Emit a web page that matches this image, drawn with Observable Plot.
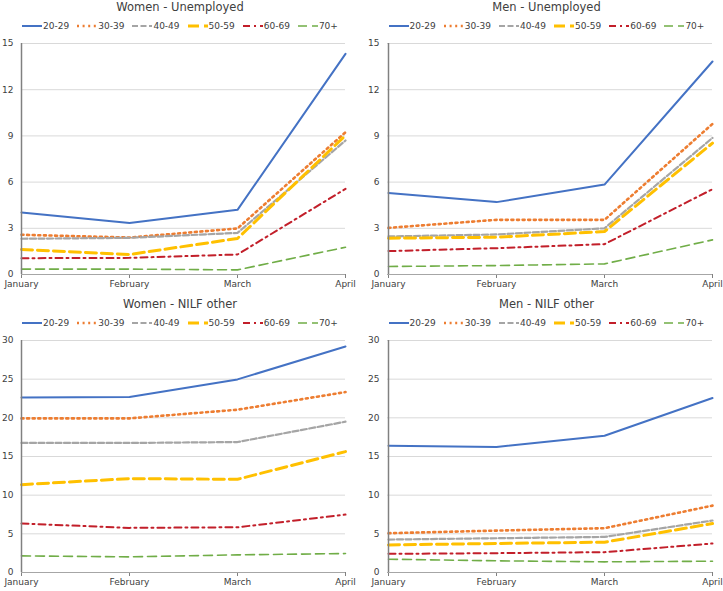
<!DOCTYPE html>
<html>
<head>
<meta charset="utf-8">
<script src="https://cdn.jsdelivr.net/npm/d3@7"></script>
<script src="https://cdn.jsdelivr.net/npm/@observablehq/plot@0.6"></script>
<style>
  html, body { margin: 0; padding: 0; background: #fff; }
  #root { position: relative; width: 723px; height: 591px; overflow: hidden; font-family: "DejaVu Sans", Verdana, sans-serif; }
  .panel { position: absolute; height: 294px; }
  .title { position: absolute; top: 0; height: 14px; line-height: 14px; font-size: 11.5px; color: #404040; text-align: center; white-space: nowrap; }
  .legend { position: absolute; top: 20px; height: 12px; display: flex; justify-content: center; align-items: center; font-size: 9px; color: #404040; white-space: nowrap; }
  .item { display: flex; align-items: center; margin: 0 4px; }
  .item svg { margin-right: 1px; }
</style>
</head>
<body>
<div id="root"></div>
<script>
const months = ["January", "February", "March", "April"];
const ages = ["20-29", "30-39", "40-49", "50-59", "60-69", "70+"];
const colors = ["#4472C4", "#ED7D31", "#A5A5A5", "#FFC000", "#C21F2A", "#70AD47"];

// values per age group: January, February, March, April
const womenUnemployed = [
  [4.03, 3.35, 4.20, 14.33],
  [2.58, 2.40, 2.99, 9.24],
  [2.32, 2.38, 2.70, 8.70],
  [1.62, 1.30, 2.34, 9.03],
  [1.06, 1.08, 1.30, 5.56],
  [0.35, 0.35, 0.30, 1.77]
];
const menUnemployed = [
  [5.30, 4.70, 5.84, 13.83],
  [3.03, 3.55, 3.55, 9.78],
  [2.47, 2.60, 3.00, 8.87],
  [2.36, 2.42, 2.79, 8.53],
  [1.52, 1.71, 1.97, 5.54],
  [0.52, 0.58, 0.69, 2.25]
];
const womenNilf = [
  [22.64, 22.69, 24.97, 29.23],
  [19.93, 19.93, 21.05, 23.33],
  [16.75, 16.75, 16.87, 19.50],
  [11.36, 12.14, 12.05, 15.63],
  [6.33, 5.77, 5.85, 7.49],
  [2.15, 2.02, 2.28, 2.45]
];
const menNilf = [
  [16.40, 16.23, 17.69, 22.56],
  [5.08, 5.42, 5.73, 8.65],
  [4.26, 4.43, 4.60, 6.72],
  [3.57, 3.75, 3.92, 6.33],
  [2.41, 2.50, 2.63, 3.75],
  [1.72, 1.51, 1.38, 1.46]
];
const unemployedTicks = [0, 3, 6, 9, 12, 15];
const nilfTicks = [0, 5, 10, 15, 20, 25, 30];

const styles = [
  {strokeWidth: 2, dash: null},
  {strokeWidth: 2.6, dash: "2,3.6"},
  {strokeWidth: 2.2, dash: "6,2.5"},
  {strokeWidth: 3, dash: "11,5"},
  {strokeWidth: 2, dash: "7,4,2,4"},
  {strokeWidth: 1.6, dash: "9,5"}
];

const panels = [
  {title: "Women - Unemployed", values: womenUnemployed, ticks: unemployedTicks, left: 0, top: 0, width: 361, ml: 21, mr: 16, bottom: 274},
  {title: "Men - Unemployed", values: menUnemployed, ticks: unemployedTicks, left: 361, top: 0, width: 362, ml: 26, mr: 11, bottom: 274},
  {title: "Women - NILF other", values: womenNilf, ticks: nilfTicks, left: 0, top: 297, width: 361, ml: 21, mr: 16, bottom: 275},
  {title: "Men - NILF other", values: menNilf, ticks: nilfTicks, left: 361, top: 297, width: 362, ml: 26, mr: 11, bottom: 275}
];

const root = document.getElementById("root");

for (const p of panels) {
  const div = document.createElement("div");
  div.className = "panel";
  div.style.left = p.left + "px";
  div.style.top = p.top + "px";
  div.style.width = p.width + "px";

  const title = document.createElement("div");
  title.className = "title";
  title.textContent = p.title;
  title.style.left = (p.ml - 6) + "px";
  title.style.right = p.mr + "px";
  div.appendChild(title);

  const legend = document.createElement("div");
  legend.className = "legend";
  legend.style.left = (p.ml - 6) + "px";
  legend.style.right = p.mr + "px";
  ages.forEach((a, i) => {
    const item = document.createElement("span");
    item.className = "item";
    const ns = "http://www.w3.org/2000/svg";
    const sw = document.createElementNS(ns, "svg");
    sw.setAttribute("width", 20);
    sw.setAttribute("height", 10);
    const ln = document.createElementNS(ns, "line");
    ln.setAttribute("x1", 0); ln.setAttribute("x2", 20);
    ln.setAttribute("y1", 5); ln.setAttribute("y2", 5);
    ln.setAttribute("stroke", colors[i]);
    ln.setAttribute("stroke-width", styles[i].strokeWidth);
    if (styles[i].dash) ln.setAttribute("stroke-dasharray", styles[i].dash);
    sw.appendChild(ln);
    item.appendChild(sw);
    const t = document.createElement("span");
    t.textContent = a;
    item.appendChild(t);
    legend.appendChild(item);
  });
  div.appendChild(legend);

  const rows = [];
  ages.forEach((a, i) => months.forEach((m, j) => rows.push({age: a, month: m, value: p.values[i][j]})));

  const height = 256;
  const lineMarks = ages.map((a, i) => Plot.line(rows.filter(d => d.age === a), {
    x: "month", y: "value",
    stroke: colors[i],
    strokeWidth: styles[i].strokeWidth,
    strokeDasharray: styles[i].dash || undefined,
    strokeLinejoin: "round"
  }));

  const chart = Plot.plot({
    width: p.width,
    height: height,
    marginTop: 7,
    marginBottom: height - (p.bottom - 36),
    marginLeft: p.ml,
    marginRight: p.mr,
    style: {fontFamily: "DejaVu Sans, Verdana, sans-serif", fontSize: "9px", color: "#404040", background: "transparent", overflow: "visible"},
    x: {type: "point", domain: months, padding: 0},
    y: {domain: [p.ticks[0], p.ticks[p.ticks.length - 1]]},
    marks: [
      Plot.gridY(p.ticks.slice(1), {stroke: "#d9d9d9", strokeOpacity: 1, strokeWidth: 1}),
      Plot.axisY(p.ticks, {tickSize: 0, tickPadding: 8, label: null, fill: "#404040"}),
      Plot.axisX(months, {tickSize: 4, tickPadding: 2, label: null, stroke: "#808080", fill: "#404040"}),
      Plot.ruleY([p.ticks[0]], {stroke: "#a6a6a6", strokeWidth: 1}),
      ...lineMarks,
      Plot.ruleX([months[0]], {stroke: "#808080", strokeWidth: 1.5})
    ]
  });
  chart.style.position = "absolute";
  chart.style.top = "36px";
  chart.style.left = "0px";
  div.appendChild(chart);
  root.appendChild(div);
}
</script>
</body>
</html>
